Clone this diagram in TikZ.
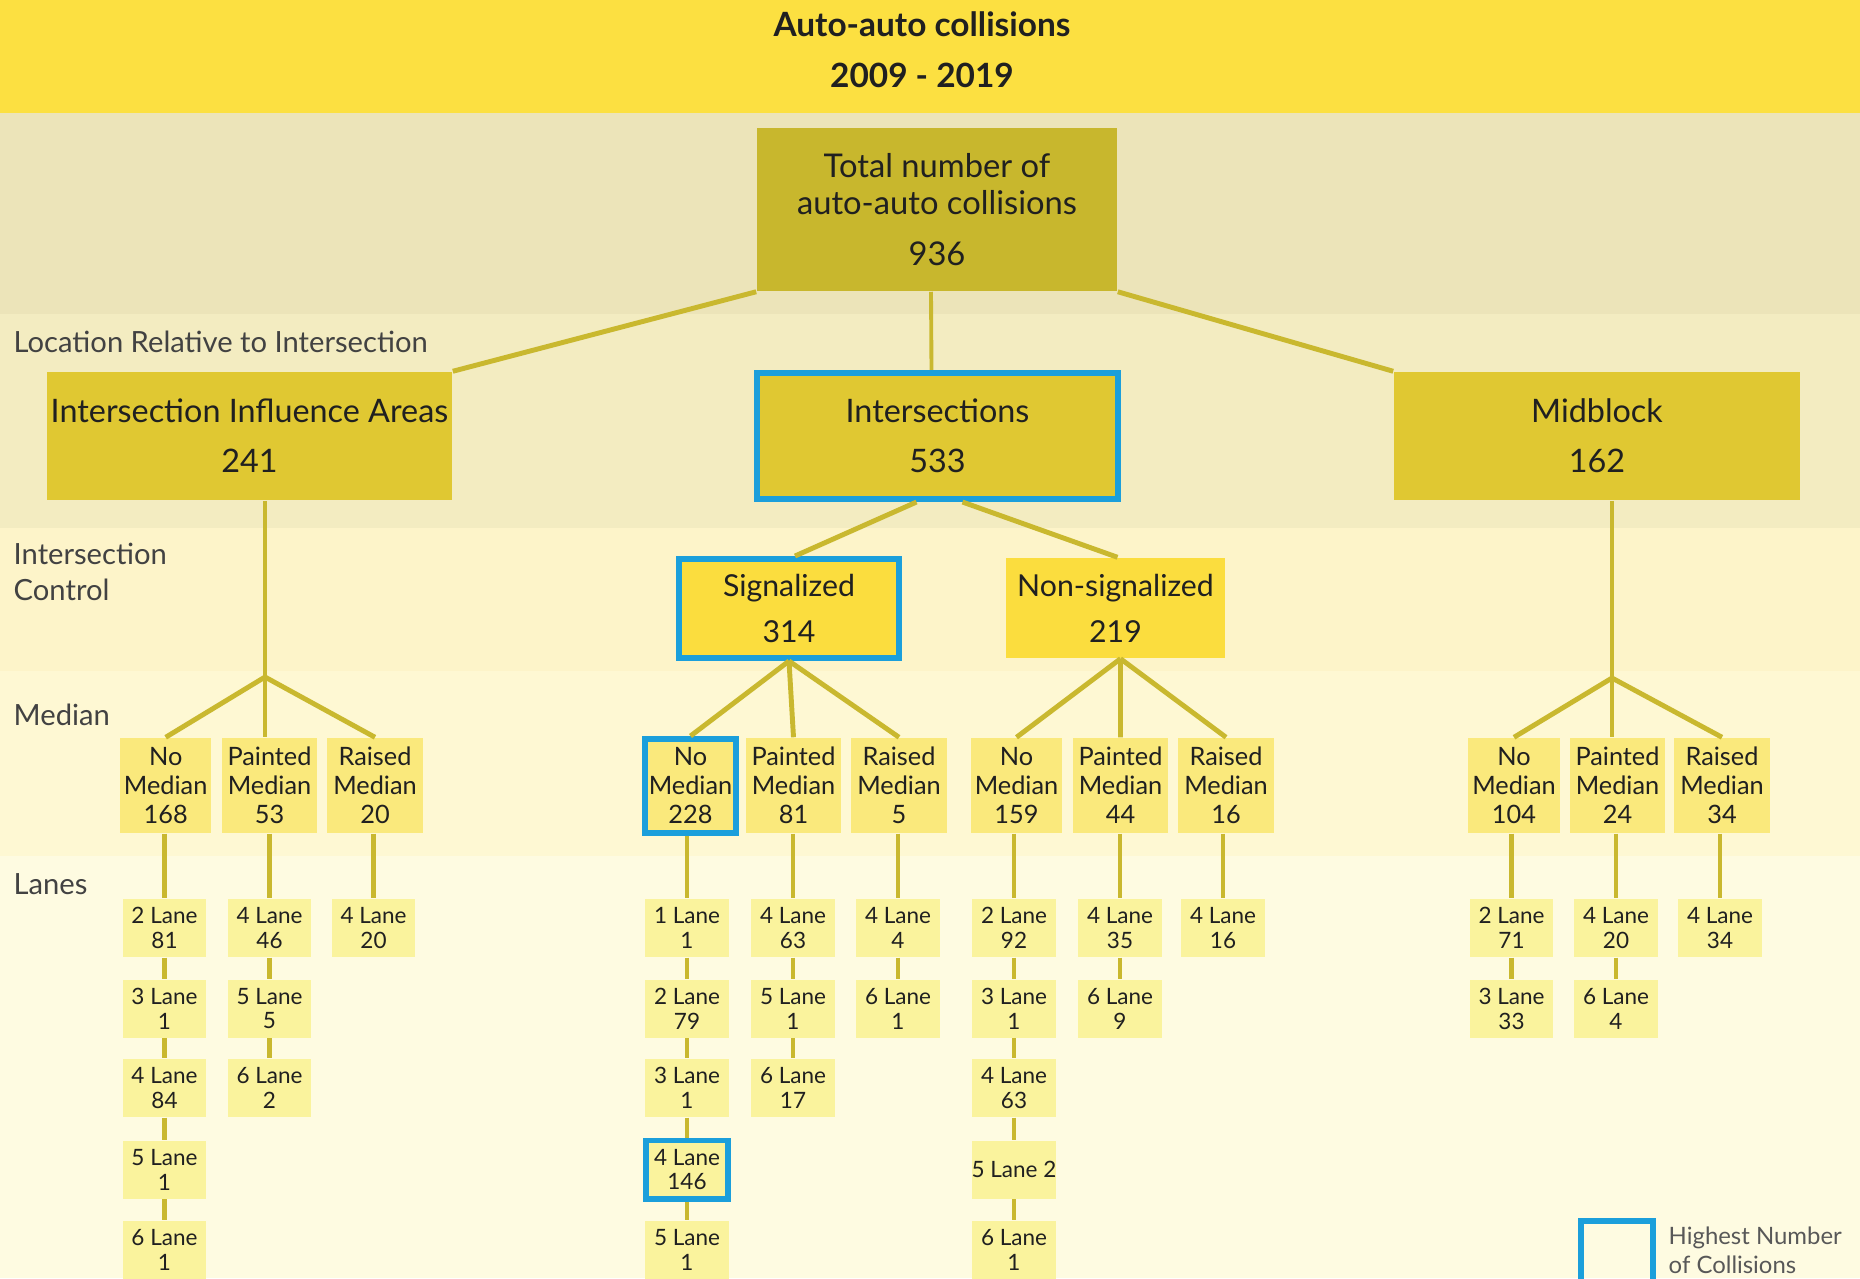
\documentclass[tikz,border=0pt]{standalone}
\usepackage{fontspec}
\setmainfont{Lato}
\usepackage{xcolor}
\definecolor{cTitle}{HTML}{FCE041}
\definecolor{cBandA}{HTML}{ECE4B9}
\definecolor{cBandB}{HTML}{F3ECC1}
\definecolor{cBandC}{HTML}{FDF4C9}
\definecolor{cBandD}{HTML}{FEF8D3}
\definecolor{cBandE}{HTML}{FEFBE1}
\definecolor{cTotal}{HTML}{C8B72D}
\definecolor{cLoc}{HTML}{E0C832}
\definecolor{cCtrl}{HTML}{FBDD3E}
\definecolor{cMed}{HTML}{FAE97C}
\definecolor{cLane}{HTML}{FAF39D}
\definecolor{cLink}{HTML}{C9B82F}
\definecolor{cHigh}{HTML}{1B9FDB}
\definecolor{cInk}{HTML}{202020}
\usepackage{tikz}
\usetikzlibrary{positioning}

\begin{document}
\begin{tikzpicture}[
    x=0.01cm, y=-0.01cm,
    box/.style     = {inner sep=0pt, align=center, text=cInk},
    totbox/.style  = {box, fill=cTotal, minimum width=3.6cm, minimum height=1.63cm,
                      font=\fontsize{9.3}{10.5}\selectfont},
    locbox/.style  = {box, fill=cLoc, minimum width=4.05cm, minimum height=1.28cm,
                      font=\fontsize{9.2}{14.2}\selectfont},
    ctrlbox/.style = {box, fill=cCtrl, minimum width=2.19cm, minimum height=1.0cm,
                      font=\fontsize{8.6}{13.1}\selectfont},
    medbox/.style  = {box, fill=cMed, minimum width=0.95cm, minimum height=0.95cm,
                      font=\fontsize{7.2}{8.25}\selectfont},
    lanebox/.style = {box, fill=cLane, minimum width=0.83cm, minimum height=0.58cm,
                      font=\fontsize{6.4}{7.1}\selectfont},
    high/.style    = {draw=cHigh, line width=1.7pt},
    link/.style    = {draw=cLink, line width=1.4pt},
    lvl/.style     = {anchor=base west, inner sep=0pt, text=cInk!85,
                      font=\fontsize{8.3}{10}\selectfont}
]
% --- Pozadi: pasy urovni ----------------------------------------------------
\useasboundingbox (0,0) rectangle (1860,1278);
\fill[cBandE] (0,856) rectangle (1860,1278);
\fill[cBandD] (0,671) rectangle (1860,856);
\fill[cBandC] (0,528) rectangle (1860,671);
\fill[cBandB] (0,314) rectangle (1860,528);
\fill[cBandA] (0,113) rectangle (1860,314);
\fill[cTitle] (0,0) rectangle (1860,113);

\node[box, font=\bfseries\fontsize{9.5}{14.5}\selectfont] (title) at (922,50)
  {Auto-auto collisions\\2009 - 2019};

% --- Popisky urovni (vlevo) -------------------------------------------------
\node[lvl] (lLoc)  at (13,352) {Location Relative to Intersection};
\node[lvl, align=left] (lCtrl) at (13,600) {Intersection\\Control};
\node[lvl] (lMed)  at (13,725) {Median};
\node[lvl] (lLane) at (13,894) {Lanes};

% --- Sloupce: x souradnice pruhu -------------------------------------------
\def\xAa{164.5} \def\xAb{269.5} \def\xAc{373.5}
\def\xSa{687}   \def\xSb{793}   \def\xSc{898}
\def\xNa{1014}  \def\xNb{1120}  \def\xNc{1223}
\def\xMa{1511.5}\def\xMb{1616}  \def\xMc{1720}
\def\yRa{928} \def\yRb{1008.5} \def\yRc{1088} \def\yRd{1169.5} \def\yRe{1249.5}

% --- Koren a poloha vuci krizovatce ----------------------------------------
\node[totbox] (total) at (937,209.5) {Total number of\\auto-auto collisions\\[0.14cm]936};
\node[locbox] (aLoc) at (249.5,436) {Intersection Influence Areas\\241};
\node[locbox, high, minimum width=3.61cm, minimum height=1.26cm] (iLoc) at (937.5,436)
  {Intersections\\533};
\node[locbox, minimum width=4.06cm] (mLoc) at (1597,436) {Midblock\\162};

% --- Rizeni krizovatky ------------------------------------------------------
\node[ctrlbox, high, minimum height=0.99cm] (sig) at (789,608.5) {Signalized\\314};
\node[ctrlbox] (nsig) at (1115.5,608) {Non-signalized\\219};

% --- Median -----------------------------------------------------------------
\node[medbox, minimum width=0.915cm] (aNo) at (165.7,785.5) {No\\Median\\168};
\node[medbox]                         (aPt) at (269.5,785.5) {Painted\\Median\\53};
\node[medbox, minimum width=0.96cm]   (aRs) at (375,785.5)   {Raised\\Median\\20};
\node[medbox, high, minimum width=0.91cm, minimum height=0.94cm] (sNo) at (690.5,786)
  {No\\Median\\228};
\node[medbox]                         (sPt) at (793.5,785.5) {Painted\\Median\\81};
\node[medbox, minimum width=0.96cm]   (sRs) at (899,785.5)   {Raised\\Median\\5};
\node[medbox, minimum width=0.91cm]   (nNo) at (1016.5,785.5){No\\Median\\159};
\node[medbox]                         (nPt) at (1120.5,785.5){Painted\\Median\\44};
\node[medbox, minimum width=0.96cm]   (nRs) at (1226,785.5)  {Raised\\Median\\16};
\node[medbox, minimum width=0.92cm]   (mNo) at (1514,785.5)  {No\\Median\\104};
\node[medbox]                         (mPt) at (1617.5,785.5){Painted\\Median\\24};
\node[medbox, minimum width=0.96cm]   (mRs) at (1722,785.5)  {Raised\\Median\\34};

% --- Pruhy: Intersection Influence Areas ------------------------------------
\node[lanebox] (aNo2) at (\xAa,\yRa) {2 Lane\\81};
\node[lanebox] (aNo3) at (\xAa,\yRb) {3 Lane\\1};
\node[lanebox] (aNo4) at (\xAa,\yRc) {4 Lane\\84};
\node[lanebox] (aNo5) at (\xAa,\yRd) {5 Lane\\1};
\node[lanebox] (aNo6) at (\xAa,\yRe) {6 Lane\\1};
\node[lanebox] (aPt4) at (\xAb,\yRa) {4 Lane\\46};
\node[lanebox] (aPt5) at (\xAb,\yRb) {5 Lane\\5};
\node[lanebox] (aPt6) at (\xAb,\yRc) {6 Lane\\2};
\node[lanebox] (aRs4) at (\xAc,\yRa) {4 Lane\\20};

% --- Pruhy: Signalized ------------------------------------------------------
\node[lanebox] (sNo1) at (\xSa,\yRa) {1 Lane\\1};
\node[lanebox] (sNo2) at (\xSa,\yRb) {2 Lane\\79};
\node[lanebox] (sNo3) at (\xSa,\yRc) {3 Lane\\1};
\node[lanebox, high, minimum width=0.815cm] (sNo4) at (\xSa,\yRd) {4 Lane\\146};
\node[lanebox] (sNo5) at (\xSa,\yRe) {5 Lane\\1};
\node[lanebox] (sPt4) at (\xSb,\yRa) {4 Lane\\63};
\node[lanebox] (sPt5) at (\xSb,\yRb) {5 Lane\\1};
\node[lanebox] (sPt6) at (\xSb,\yRc) {6 Lane\\17};
\node[lanebox] (sRs4) at (\xSc,\yRa) {4 Lane\\4};
\node[lanebox] (sRs6) at (\xSc,\yRb) {6 Lane\\1};

% --- Pruhy: Non-signalized --------------------------------------------------
\node[lanebox] (nNo2) at (\xNa,\yRa) {2 Lane\\92};
\node[lanebox] (nNo3) at (\xNa,\yRb) {3 Lane\\1};
\node[lanebox] (nNo4) at (\xNa,\yRc) {4 Lane\\63};
\node[lanebox] (nNo5) at (\xNa,\yRd) {5 Lane 2};
\node[lanebox] (nNo6) at (\xNa,\yRe) {6 Lane\\1};
\node[lanebox] (nPt4) at (\xNb,\yRa) {4 Lane\\35};
\node[lanebox] (nPt6) at (\xNb,\yRb) {6 Lane\\9};
\node[lanebox] (nRs4) at (\xNc,\yRa) {4 Lane\\16};

% --- Pruhy: Midblock --------------------------------------------------------
\node[lanebox] (mNo2) at (\xMa,\yRa) {2 Lane\\71};
\node[lanebox] (mNo3) at (\xMa,\yRb) {3 Lane\\33};
\node[lanebox] (mPt4) at (\xMb,\yRa) {4 Lane\\20};
\node[lanebox] (mPt6) at (\xMb,\yRb) {6 Lane\\4};
\node[lanebox] (mRs4) at (\xMc,\yRa) {4 Lane\\34};

% --- Legenda ----------------------------------------------------------------
\node[box, high, minimum width=0.72cm, minimum height=0.63cm] (key) at (1617,1252.5) {};
\node[box, align=left, anchor=west, text=cInk!75,
      font=\fontsize{6.8}{8.2}\selectfont] (keyTxt) at ([xshift=0.12cm]key.east |- 0,1250)
  {Highest Number\\of Collisions};

% --- Hrany: koren -> poloha -------------------------------------------------
\draw[link] (total.south west) -- (aLoc.north east);
\draw[link, line width=1.1pt] ([xshift=-0.06cm]total.south) -- ([xshift=-0.06cm]iLoc.north);
\draw[link] (total.south east) -- (mLoc.north west);

% --- Hrany: Intersections -> rizeni ----------------------------------------
\draw[link] ([xshift=-0.21cm]iLoc.south) -- ([xshift=0.06cm]sig.north);
\draw[link] ([xshift= 0.25cm]iLoc.south) -- ([xshift=0.02cm]nsig.north);

% --- Hrany: vetveni do medianu ----------------------------------------------
\coordinate (jA) at (265,677);
\draw[link] (aLoc.south -| jA) -- (jA);
\draw[link] (jA) -- (aNo.north);
\draw[link] (jA) -- (jA |- aPt.north);
\draw[link] (jA) -- (aRs.north);

\draw[link] (sig.south) -- (sNo.north);
\draw[link] (sig.south) -- (sPt.north);
\draw[link] (sig.south) -- (sRs.north);

\coordinate (jN) at ([xshift=0.05cm]nsig.south);
\draw[link] (jN) -- (nNo.north);
\draw[link] (jN) -- (nPt.north);
\draw[link] (jN) -- (nRs.north);

\coordinate (jM) at (1612,678);
\draw[link] (mLoc.south -| jM) -- (jM);
\draw[link] (jM) -- (mNo.north);
\draw[link] (jM) -- (jM |- mPt.north);
\draw[link] (jM) -- (mRs.north);

% --- Hrany: median -> pruhy a retezce pruhu --------------------------------
\draw[link] (aNo.south -| aNo2) -- (aNo2) -- (aNo3) -- (aNo4) -- (aNo5) -- (aNo6);
\draw[link] (aPt.south -| aPt4) -- (aPt4) -- (aPt5) -- (aPt6);
\draw[link] (aRs.south -| aRs4) -- (aRs4);
\draw[link] (sNo.south -| sNo1) -- (sNo1) -- (sNo2) -- (sNo3) -- (sNo4) -- (sNo5);
\draw[link] (sPt.south -| sPt4) -- (sPt4) -- (sPt5) -- (sPt6);
\draw[link] (sRs.south -| sRs4) -- (sRs4) -- (sRs6);
\draw[link] (nNo.south -| nNo2) -- (nNo2) -- (nNo3) -- (nNo4) -- (nNo5) -- (nNo6);
\draw[link] (nPt.south -| nPt4) -- (nPt4) -- (nPt6);
\draw[link] (nRs.south -| nRs4) -- (nRs4);
\draw[link] (mNo.south -| mNo2) -- (mNo2) -- (mNo3);
\draw[link] (mPt.south -| mPt4) -- (mPt4) -- (mPt6);
\draw[link] (mRs.south -| mRs4) -- (mRs4);
\end{tikzpicture}
\end{document}
